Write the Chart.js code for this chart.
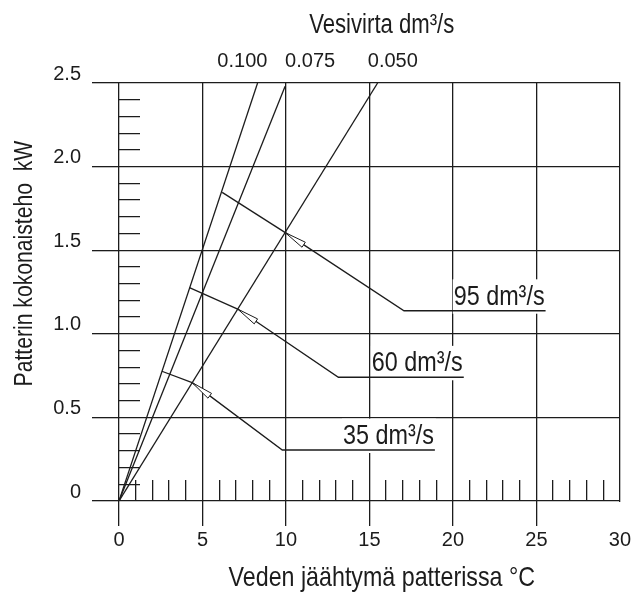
<!DOCTYPE html>
<html>
<head>
<meta charset="utf-8">
<script src="https://cdn.jsdelivr.net/npm/chart.js@4.4.1/dist/chart.umd.min.js"></script>
<style>
html,body{margin:0;padding:0;background:#fff;}
canvas{display:block;}
</style>
</head>
<body>
<canvas id="c" width="633" height="592" style="width:633px;height:592px"></canvas>
<script>
// ---------- data ----------
const xTickValues = [0, 5, 10, 15, 20, 25, 30];
const yTickLabels = ['0', '0.5', '1.0', '1.5', '2.0', '2.5'];

// water flow lines (from origin to their top ends)
const flowRates = ['0.100', '0.075', '0.050'];
const flowEndX = [8.30, 9.95, 15.49];
const flowEndY = [2.50, 2.48, 2.50];

// air flow curves (between the 0.100 and 0.050 lines) and their leaders
const airFlows = ['95 dm³/s', '60 dm³/s', '35 dm³/s'];
const curveStartX = [6.18, 4.22, 2.57];
const curveStartY = [1.846, 1.276, 0.776];
const curveTipX = [9.96, 7.11, 4.38];
const curveTipY = [1.605, 1.148, 0.708];
const leaderEndX = [17.07, 13.14, 9.78];
const leaderEndY = [1.138, 0.740, 0.305];
const underlineEndX = [25.55, 20.65, 18.92];

const titleTop = 'Vesivirta dm³/s';
const titleX = 'Veden jäähtymä patterissa °C';
const titleY = 'Patterin kokonaisteho  kW';

// ---------- placement / style (not data) ----------
const place = {
  flowLabelX: [5.89, 9.95, 14.9],
  flowLabelBaseline: 67,
  topTitleX: 11.39, topTitleBaseline: 33,
  xTitleCenter: 15.74, xTitleBaseline: 586,
  yTitleCenter: 1.42, yTitleBaseline: 31.5
};
const FONT = "'Liberation Sans', Arial, sans-serif";
const INK = '#1c1c1c';
const NARROW = 0.82;
const LW = 1.3;
const MINOR_LEN = 21;
const LABEL_SIZE = 28.5;

function narrowText(ctx, text, x, y, size, align, rot, squeeze) {
  ctx.save();
  ctx.translate(x, y);
  if (rot) ctx.rotate(rot);
  ctx.scale(squeeze || NARROW, 1);
  ctx.font = size + 'px ' + FONT;
  ctx.textAlign = align;
  ctx.textBaseline = 'alphabetic';
  ctx.fillStyle = INK;
  ctx.fillText(text, 0, 0);
  ctx.restore();
}
function al(p) { return Math.round(p - LW / 2) + LW / 2; }

const annotPlugin = {
  id: 'annot',
  beforeDatasetsDraw(chart) {
    const ctx = chart.ctx, x = chart.scales.x, y = chart.scales.y;
    ctx.save();
    // minor ticks
    ctx.strokeStyle = INK; ctx.lineWidth = LW;
    ctx.beginPath();
    const y0 = y.getPixelForValue(0), x0 = x.getPixelForValue(0);
    for (let v = 1; v < 30; v++) {
      if (v % 5 === 0) continue;
      const px = al(x.getPixelForValue(v));
      ctx.moveTo(px, y0); ctx.lineTo(px, y0 - MINOR_LEN);
    }
    for (let k = 1; k < 25; k++) {
      if (k % 5 === 0) continue;
      const py = al(y.getPixelForValue(k / 10));
      ctx.moveTo(x0, py); ctx.lineTo(x0 + MINOR_LEN, py);
    }
    ctx.stroke();
    // air flow labels on white boxes
    airFlows.forEach((t, i) => {
      const ux = x.getPixelForValue(underlineEndX[i]);
      const uy = y.getPixelForValue(leaderEndY[i]);
      ctx.font = LABEL_SIZE + 'px ' + FONT;
      const w = ctx.measureText(t).width * NARROW;
      const right = ux - 1, base = uy - 6;
      const top = base - LABEL_SIZE * 0.716 - 5;
      ctx.fillStyle = '#fff';
      ctx.fillRect(right - w - 1, top, w + 3, uy + 3 - top);
      narrowText(ctx, t, right, base, LABEL_SIZE, 'right');
    });
    ctx.restore();
  },
  afterDatasetsDraw(chart) {
    const ctx = chart.ctx, x = chart.scales.x, y = chart.scales.y;
    ctx.save();
    ctx.strokeStyle = INK; ctx.lineWidth = 1; ctx.fillStyle = '#fff';
    airFlows.forEach((t, i) => {
      const tx = x.getPixelForValue(curveTipX[i]), ty = y.getPixelForValue(curveTipY[i]);
      const ex = x.getPixelForValue(leaderEndX[i]), ey = y.getPixelForValue(leaderEndY[i]);
      let dx = ex - tx, dy = ey - ty; const L = Math.hypot(dx, dy); dx /= L; dy /= L;
      const bx = tx + dx * 22, by = ty + dy * 22, nx = -dy * 3, ny = dx * 3;
      ctx.beginPath();
      ctx.moveTo(tx, ty); ctx.lineTo(bx + nx, by + ny); ctx.lineTo(bx - nx, by - ny); ctx.closePath();
      ctx.fill(); ctx.stroke();
    });
    ctx.restore();
  },
  afterDraw(chart) {
    const ctx = chart.ctx, x = chart.scales.x, y = chart.scales.y;
    ctx.save();
    // flow rate labels
    ctx.font = '20px ' + FONT; ctx.fillStyle = INK; ctx.textAlign = 'left'; ctx.textBaseline = 'alphabetic';
    flowRates.forEach((r, i) => ctx.fillText(r, x.getPixelForValue(place.flowLabelX[i]), place.flowLabelBaseline));
    ctx.restore();
    narrowText(ctx, titleTop, x.getPixelForValue(place.topTitleX), place.topTitleBaseline, 27, 'left');
    narrowText(ctx, titleX, x.getPixelForValue(place.xTitleCenter), place.xTitleBaseline, 28, 'center', 0, 0.83);
    narrowText(ctx, titleY, place.yTitleBaseline, y.getPixelForValue(place.yTitleCenter), 25.8, 'center', -Math.PI / 2);
  }
};

const lineStyle = { showLine: true, borderColor: INK, borderWidth: LW, pointRadius: 0, pointHoverRadius: 0, fill: false, tension: 0 };
const datasets = [];
flowRates.forEach((r, i) => datasets.push(Object.assign({
  label: 'Vesivirta ' + r,
  data: [{ x: 0, y: 0 }, { x: flowEndX[i], y: flowEndY[i] }]
}, lineStyle)));
airFlows.forEach((a, i) => {
  datasets.push(Object.assign({
    label: a + ' käyrä',
    data: [{ x: curveStartX[i], y: curveStartY[i] }, { x: curveTipX[i], y: curveTipY[i] }]
  }, lineStyle));
  datasets.push(Object.assign({
    label: a,
    data: [{ x: curveTipX[i], y: curveTipY[i] }, { x: leaderEndX[i], y: leaderEndY[i] }, { x: underlineEndX[i], y: leaderEndY[i] }]
  }, lineStyle));
});

new Chart(document.getElementById('c'), {
  type: 'scatter',
  data: { datasets },
  options: {
    responsive: false, animation: false, devicePixelRatio: 1,
    layout: { padding: { top: 83, right: 11.5, bottom: 0, left: 0 } },
    plugins: { legend: { display: false }, tooltip: { enabled: false }, title: { display: false } },
    scales: {
      x: {
        type: 'linear', position: 'bottom', min: 0, max: 30,
        afterBuildTicks: s => { s.ticks = xTickValues.map(v => ({ value: v })); },
        ticks: { font: { family: FONT, size: 20 }, color: INK, padding: 2, maxRotation: 0, autoSkip: false },
        grid: { color: c => (c.tick && c.tick.value === 30) ? 'rgba(0,0,0,0)' : INK, lineWidth: LW, tickLength: 25 },
        border: { display: false },
        afterFit: s => { s.height = 91; }
      },
      y: {
        type: 'linear', position: 'left', min: 0, max: 2.5,
        afterBuildTicks: s => { s.ticks = yTickLabels.map(l => ({ value: parseFloat(l) })); },
        ticks: { callback: (v, i) => yTickLabels[i], font: { family: FONT, size: 20 }, color: INK, padding: 11, labelOffset: -9, autoSkip: false },
        grid: { color: INK, lineWidth: LW, tickLength: 27 },
        border: { display: false },
        afterFit: s => { s.width = 119; }
      },
      y2: {
        type: 'linear', position: 'right', min: 0, max: 2.5,
        grid: { display: false }, ticks: { display: false },
        border: { display: true, color: INK, width: LW },
        afterFit: s => { s.width = 0; }
      }
    }
  },
  plugins: [annotPlugin]
});
</script>
</body>
</html>
